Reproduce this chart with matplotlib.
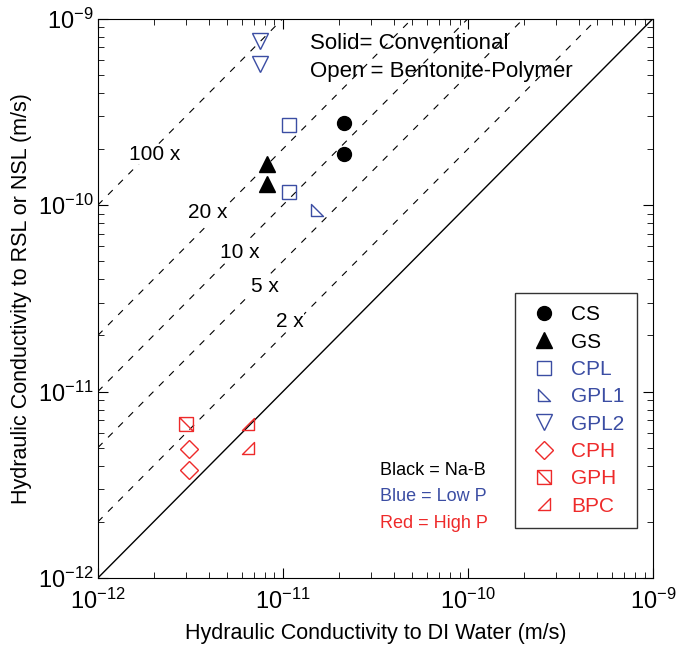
import numpy as np
import matplotlib.pyplot as plt
from matplotlib.path import Path

plt.rcParams['font.family'] = ['Liberation Sans', 'DejaVu Sans']
plt.rcParams['mathtext.fontset'] = 'custom'
plt.rcParams['mathtext.rm'] = 'Liberation Sans'

BLUE = '#3b4da3'
RED = '#ee2a2a'

# data (DI water k, RSL/NSL k), m/s
cs_x = [2.15e-11, 2.15e-11]
cs_y = [2.75e-10, 1.88e-10]
gs_x = [8.2e-12, 8.2e-12]
gs_y = [1.67e-10, 1.29e-10]
cpl_x = [1.08e-11, 1.08e-11]
cpl_y = [2.7e-10, 1.18e-10]
gpl1_x = [1.52e-11]
gpl1_y = [9.4e-11]
gpl2_x = [7.5e-12, 7.5e-12]
gpl2_y = [7.6e-10, 5.7e-10]
cph_x = [3.1e-12, 3.1e-12]
cph_y = [4.9e-12, 3.8e-12]
gph_x = [2.98e-12]
gph_y = [6.7e-12]
bpc_x = [6.5e-12, 6.5e-12]
bpc_y = [6.7e-12, 5.0e-12]

ratios = [2, 5, 10, 20, 100]
ratio_labels = ['2 x', '5 x', '10 x', '20 x', '100 x']
label_pos = [(1.09e-11, 2.37e-11), (8.0e-12, 3.65e-11), (5.86e-12, 5.6e-11),
             (3.93e-12, 9.1e-11), (2.03e-12, 1.87e-10)]

# custom markers
tri_ll = Path([(-1, 1), (-1, -1), (1, -1), (-1, 1)],
              [Path.MOVETO, Path.LINETO, Path.LINETO, Path.CLOSEPOLY])
tri_lr = Path([(1, 1), (1, -1), (-1, -1), (1, 1)],
              [Path.MOVETO, Path.LINETO, Path.LINETO, Path.CLOSEPOLY])
sq_x = Path([(-1, -1), (1, -1), (1, 1), (-1, 1), (-1, -1), (-1, 1), (1, -1)],
            [Path.MOVETO, Path.LINETO, Path.LINETO, Path.LINETO, Path.LINETO,
             Path.MOVETO, Path.LINETO])

fig = plt.figure(figsize=(6.94, 6.52), dpi=100)
ax = fig.add_axes([0.141, 0.1135, 0.8, 0.858])

xx = np.array([1e-12, 1e-9])
ax.plot(xx, xx, color='black', lw=1)
for r in ratios:
    ax.plot(xx, xx * r, color='black', lw=0.8, ls=(0, (6, 7)))
for lab, (tx, ty) in zip(ratio_labels, label_pos):
    ax.text(tx, ty, lab, fontsize=15, ha='center', va='center',
            bbox=dict(facecolor='white', edgecolor='none', pad=0.5))

ms = 10
ax.plot(cs_x, cs_y, 'o', color='black', ms=ms, ls='none', label='CS')
ax.plot(gs_x, gs_y, '^', color='black', ms=ms + 1, ls='none', label='GS')
ax.plot(cpl_x, cpl_y, 's', mfc='none', mec=BLUE, ms=ms, ls='none', label='CPL')
ax.plot(gpl1_x, gpl1_y, marker=tri_ll, mfc='none', mec=BLUE, ms=ms - 1, ls='none', label='GPL1')
ax.plot(gpl2_x, gpl2_y, 'v', mfc='none', mec=BLUE, ms=ms + 1, ls='none', label='GPL2')
ax.plot(cph_x, cph_y, 'D', mfc='none', mec=RED, ms=ms - 1, ls='none', label='CPH')
ax.plot(gph_x, gph_y, marker=sq_x, mfc='none', mec=RED, ms=ms, ls='none', label='GPH')
ax.plot(bpc_x, bpc_y, marker=tri_lr, mfc='none', mec=RED, ms=ms - 1, ls='none', label='BPC')

ax.set_xscale('log')
ax.set_yscale('log')
ax.set_xlim(1e-12, 1e-9)
ax.set_ylim(1e-12, 1e-9)
ax.tick_params(which='both', direction='in', top=True, right=True, labelsize=17)
ax.tick_params(which='major', length=7)
ax.tick_params(which='minor', length=4)
ax.tick_params(axis='x', pad=8)
ax.tick_params(axis='y', pad=3)

ax.set_xlabel('Hydraulic Conductivity to DI Water (m/s)', fontsize=15.5, labelpad=6)
ax.set_ylabel('Hydraulic Conductivity to RSL or NSL (m/s)', fontsize=15.5, labelpad=4)

ax.text(0.382, 0.955, 'Solid= Conventional', transform=ax.transAxes, fontsize=16, va='center')
ax.text(0.382, 0.905, 'Open = Bentonite-Polymer', transform=ax.transAxes, fontsize=16, va='center')
ax.text(0.508, 0.193, 'Black = Na-B', transform=ax.transAxes, fontsize=13, va='center', color='black')
ax.text(0.508, 0.145, 'Blue = Low P', transform=ax.transAxes, fontsize=13, va='center', color=BLUE)
ax.text(0.508, 0.097, 'Red = High P', transform=ax.transAxes, fontsize=13, va='center', color=RED)

leg = ax.legend(loc='lower right', bbox_to_anchor=(0.971, 0.089), fontsize=15,
                frameon=True, fancybox=False, edgecolor='black', handletextpad=0.5,
                labelspacing=0.4, borderpad=0.6, handlelength=1.6, borderaxespad=0)
leg.get_frame().set_linewidth(1)
colors = ['black', 'black', BLUE, BLUE, BLUE, RED, RED, RED]
for t, c in zip(leg.get_texts(), colors):
    t.set_color(c)

fig.savefig('out.png', dpi=100)
